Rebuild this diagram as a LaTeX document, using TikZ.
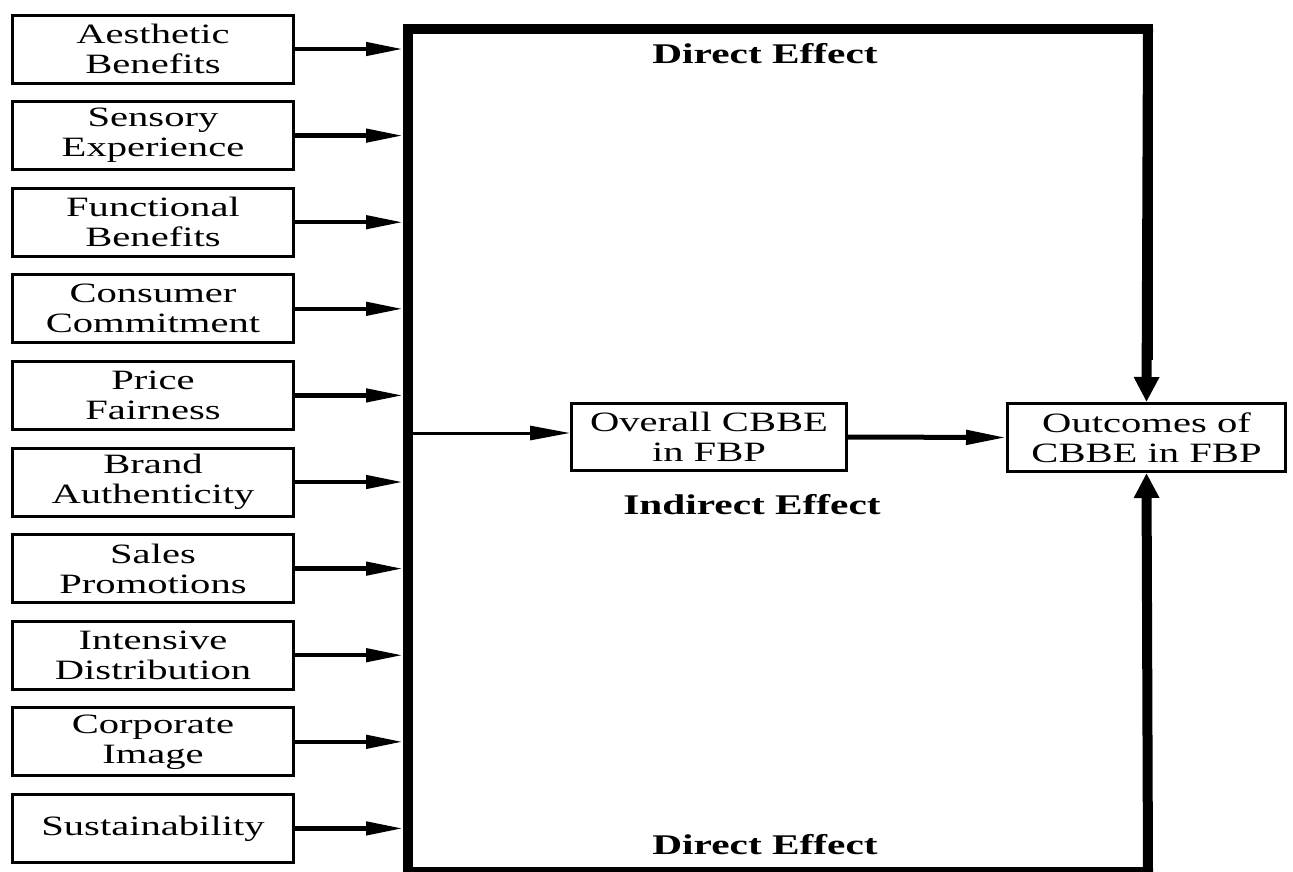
\documentclass[tikz,border=0pt]{standalone}
\usepackage{fontspec}
\setmainfont{Liberation Serif}[FakeStretch=1.45]
\usetikzlibrary{arrows.meta}

\begin{document}
\begin{tikzpicture}[x=1pt,y=-1pt,
  txt/.style={font=\fontsize{28}{30}\selectfont},
  factor/.style={txt, draw, line width=3pt, minimum width=281pt, minimum height=68pt,
    inner sep=0pt, align=center},
  midbox/.style={txt, draw, line width=3pt, minimum height=67pt, inner sep=0pt, align=center},
  effect/.style={font=\fontsize{28.5}{30}\selectfont\bfseries, inner sep=0pt},
  feed/.style={line width=4.5pt, -{Triangle[length=37pt,width=13pt]}},
  thinfeed/.style={line width=3pt, -{Triangle[length=40pt,width=14pt]}},
  medfeed/.style={line width=5pt, -{Triangle[length=40pt,width=14pt]}},
  frame/.style={line width=10pt},
  bigfeed/.style={line width=10pt, -{Triangle[length=25pt,width=24pt]}}]
\useasboundingbox (0,0) rectangle (1293,871);

% factor boxes on the left
\foreach \name/\label [count=\i from 0] in {
  aes/{Aesthetic\\Benefits},
  sen/{Sensory\\Experience},
  fun/{Functional\\Benefits},
  com/{Consumer\\Commitment},
  pri/{Price\\Fairness},
  bra/{Brand\\Authenticity},
  sal/{Sales\\Promotions},
  dis/{Intensive\\Distribution},
  cor/{Corporate\\Image},
  sus/{Sustainability}}
  \node[factor] (\name) at (153,49+86.6*\i) {\label};

% collecting bar and frame corners
\coordinate (bar) at (403,0);
\coordinate (tl) at (408,29);
\coordinate (tr) at (1148,29);
\coordinate (bl) at (408,872);
\coordinate (br) at (1148,872);
\coordinate (split) at (413,433);

% mediator and outcome
\node[midbox, minimum width=275pt] (mid) at (709,437) {Overall CBBE\\in FBP};
\node[midbox, minimum width=278pt, minimum height=68pt] (out) at (1146.5,437.5) {Outcomes of\\CBBE in FBP};

% frame
\draw[frame, line join=miter] (bl) -- (tl) -- (tr) -- (tr |- 0,360);
\draw[frame] (bl) -- (br);
\draw[bigfeed] (tr) -- (out.north);
\draw[bigfeed] (br) -- (out.south);

% arrows from factors
\foreach \name in {aes,sen,fun,com,pri,bra,sal,dis,cor,sus}
  \draw[feed] (\name.east) -- (\name.east -| bar);

% indirect path
\draw[thinfeed] (split) -- (mid.west |- split);
\draw[medfeed] (mid.east) -- (out.west);

% labels
\node[effect] (dtop) at (765,54) {Direct Effect};
\node[effect] (ind) at (752,505) {Indirect Effect};
\node[effect] (dbot) at (765,845) {Direct Effect};
\end{tikzpicture}
\end{document}
